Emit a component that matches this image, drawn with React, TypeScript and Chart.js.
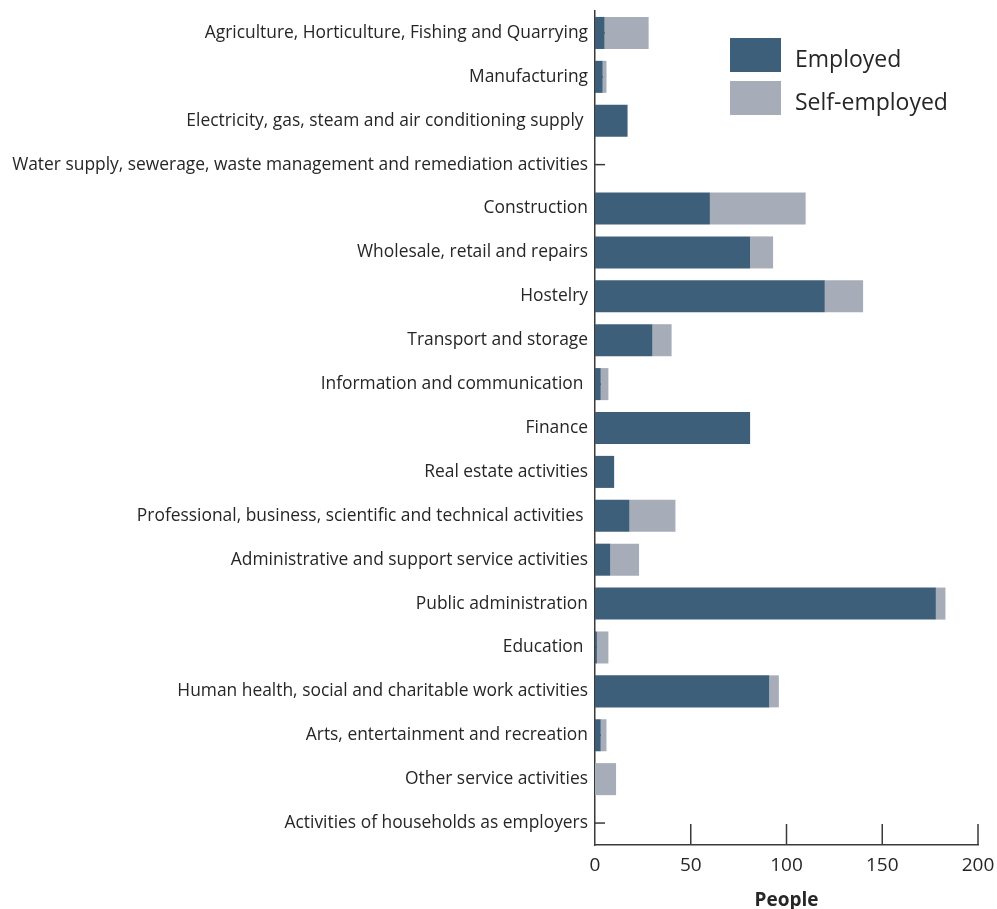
import React, { useEffect, useRef } from "react";
import { Chart, registerables } from "chart.js";

Chart.register(...registerables);

const categories = [
  "Agriculture, Horticulture, Fishing and Quarrying",
  "Manufacturing",
  "Electricity, gas, steam and air conditioning supply ",
  "Water supply, sewerage, waste management and remediation activities",
  "Construction",
  "Wholesale, retail and repairs",
  "Hostelry",
  "Transport and storage",
  "Information and communication ",
  "Finance",
  "Real estate activities",
  "Professional, business, scientific and technical activities ",
  "Administrative and support service activities",
  "Public administration",
  "Education ",
  "Human health, social and charitable work activities",
  "Arts, entertainment and recreation",
  "Other service activities",
  "Activities of households as employers",
];

const employed = [5, 4, 17, 0, 60, 81, 120, 30, 3, 81, 10, 18, 8, 178, 1, 91, 3, 0, 0];
const selfEmployed = [23, 2, 0, 0, 50, 12, 20, 10, 4, 0, 0, 24, 15, 5, 6, 5, 3, 11, 0];

const xTicks = [0, 50, 100, 150, 200];
const seriesNames = ["Employed", "Self-employed"];
const seriesColors = ["#3e5f7a", "#a6adb9"];

const FONT = "'Open Sans'";
const TEXT = "#262626";
const AXIS = "#3a3a3a";

const inwardTicks = {
  id: "inwardTicks",
  beforeDatasetsDraw(chart: any) {
    const { ctx, chartArea, scales } = chart;
    const y = scales.y;
    ctx.save();
    ctx.strokeStyle = AXIS;
    ctx.lineWidth = 1.5;
    y.ticks.forEach((_t: any, i: number) => {
      const py = y.getPixelForTick(i);
      ctx.beginPath();
      ctx.moveTo(chartArea.left, py);
      ctx.lineTo(chartArea.left + 10, py);
      ctx.stroke();
    });
    ctx.restore();
  },
  afterDatasetsDraw(chart: any) {
    const { ctx, chartArea, scales } = chart;
    const x = scales.x;
    ctx.save();
    ctx.strokeStyle = AXIS;
    ctx.lineWidth = 1.5;
    xTicks.forEach((v) => {
      if (v === 0) return;
      const px = x.getPixelForValue(v);
      ctx.beginPath();
      ctx.moveTo(px, chartArea.bottom);
      ctx.lineTo(px, chartArea.bottom - 21);
      ctx.stroke();
    });
    ctx.restore();
  },
};

const boxLegend = {
  id: "boxLegend",
  afterDraw(chart: any) {
    const { ctx, data } = chart;
    ctx.save();
    data.datasets.forEach((ds: any, i: number) => {
      const top = 38 + i * 43;
      ctx.fillStyle = ds.backgroundColor;
      ctx.fillRect(730, top, 51, 34);
      ctx.fillStyle = TEXT;
      ctx.font = `23px ${FONT}`;
      ctx.textAlign = "left";
      ctx.textBaseline = "alphabetic";
      ctx.fillText(ds.label, 795, top + 29);
    });
    ctx.restore();
  },
};

export default function App() {
  const ref = useRef<HTMLCanvasElement | null>(null);

  useEffect(() => {
    document.body.style.margin = "0";
    const chart = new Chart(ref.current as HTMLCanvasElement, {
      type: "bar",
      data: {
        labels: categories,
        datasets: [
          {
            label: seriesNames[0],
            data: employed,
            backgroundColor: seriesColors[0],
            categoryPercentage: 1,
            barPercentage: 0.73,
          },
          {
            label: seriesNames[1],
            data: selfEmployed,
            backgroundColor: seriesColors[1],
            categoryPercentage: 1,
            barPercentage: 0.73,
          },
        ],
      },
      options: {
        indexAxis: "y",
        animation: false,
        responsive: true,
        maintainAspectRatio: false,
        layout: { padding: 0 },
        plugins: {
          legend: { display: false },
          tooltip: { enabled: false },
        },
        scales: {
          x: {
            stacked: true,
            min: 0,
            max: 200,
            afterBuildTicks: (scale: any) => {
              scale.ticks = xTicks.map((v) => ({ value: v }));
            },
            afterFit: (scale: any) => {
              scale.height = 64;
              scale.paddingLeft = 0;
              scale.paddingRight = 19;
            },
            grid: { display: false, drawTicks: false },
            border: { display: true, color: AXIS, width: 1.5 },
            ticks: {
              color: TEXT,
              font: { family: FONT, size: 19 },
              padding: 9,
            },
            title: {
              display: true,
              text: "People",
              color: TEXT,
              font: { family: FONT, size: 19, weight: "bold" },
              padding: { top: 4, bottom: -3 },
            },
          },
          y: {
            stacked: true,
            afterFit: (scale: any) => {
              scale.width = 595;
              scale.paddingTop = 11;
              scale.paddingBottom = 0;
            },
            grid: { display: false, drawTicks: false },
            border: { display: true, color: AXIS, width: 1.5 },
            ticks: {
              color: TEXT,
              font: { family: FONT, size: 17.4 },
              padding: 7,
              autoSkip: false,
            },
          },
        },
      },
      plugins: [inwardTicks, boxLegend],
    });
    return () => chart.destroy();
  }, []);

  return (
    <div style={{ width: 997, height: 909, position: "relative" }}>
      <canvas ref={ref} />
    </div>
  );
}
